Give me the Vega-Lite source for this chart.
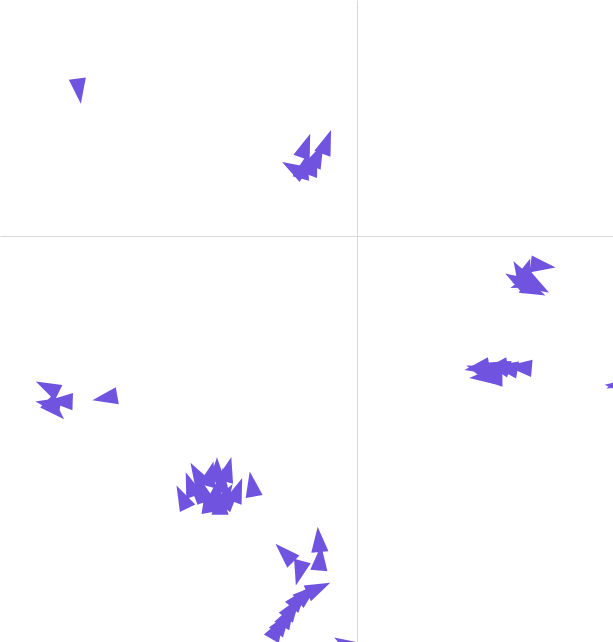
{
  "$schema": "https://vega.github.io/schema/vega-lite/v6.json",
  "width": 613,
  "height": 642,
  "padding": 0,
  "autosize": {"type": "none"},
  "config": {"view": {"stroke": null}},
  "data": {
    "values": [
      {"x": -45.3, "y": 22.6, "dir": 172},
      {"x": -4.9, "y": 14.7, "dir": 20},
      {"x": -8.3, "y": 14.1, "dir": 20},
      {"x": -6.3, "y": 12.7, "dir": 25},
      {"x": -10.4, "y": 10.6, "dir": 300},
      {"x": -8.6, "y": 10.9, "dir": 15},
      {"x": -7.1, "y": 11.4, "dir": 20},
      {"x": 30.4, "y": -4.6, "dir": 98},
      {"x": 26.6, "y": -5.6, "dir": 330},
      {"x": 27.9, "y": -7.1, "dir": 120},
      {"x": 28.9, "y": -8.4, "dir": 115},
      {"x": 27.0, "y": -7.4, "dir": 250},
      {"x": 27.6, "y": -5.3, "dir": 20},
      {"x": 26.0, "y": -6.8, "dir": 300},
      {"x": 29.6, "y": -7.8, "dir": 120},
      {"x": 26.5, "y": -20.4, "dir": 275},
      {"x": 22.9, "y": -20.2, "dir": 285},
      {"x": 20.9, "y": -21.1, "dir": 280},
      {"x": 20.4, "y": -21.9, "dir": 265},
      {"x": 21.7, "y": -22.1, "dir": 270},
      {"x": 19.8, "y": -20.8, "dir": 290},
      {"x": 24.2, "y": -20.5, "dir": 280},
      {"x": 22.6, "y": -20.5, "dir": 260},
      {"x": 19.6, "y": -20.5, "dir": 260},
      {"x": 42.5, "y": -23.3, "dir": 275},
      {"x": 42.6, "y": -22.9, "dir": 245},
      {"x": -50.5, "y": -23.5, "dir": 296},
      {"x": -48.4, "y": -25.7, "dir": 272},
      {"x": -50.4, "y": -26.1, "dir": 280},
      {"x": -49.2, "y": -27.1, "dir": 135},
      {"x": -41.1, "y": -25.2, "dir": 260},
      {"x": -26.1, "y": -37.0, "dir": 330},
      {"x": -23.9, "y": -37.0, "dir": 15},
      {"x": -22.8, "y": -36.4, "dir": 0},
      {"x": -21.0, "y": -36.3, "dir": 15},
      {"x": -25.1, "y": -39.5, "dir": 345},
      {"x": -23.1, "y": -40.0, "dir": 10},
      {"x": -21.3, "y": -40.3, "dir": 30},
      {"x": -24.3, "y": -41.1, "dir": 350},
      {"x": -20.4, "y": -40.6, "dir": 40},
      {"x": -17.1, "y": -38.6, "dir": 350},
      {"x": -28.5, "y": -40.6, "dir": 334},
      {"x": -26.2, "y": -39.5, "dir": 320},
      {"x": -22.3, "y": -41.4, "dir": 0},
      {"x": -19.4, "y": -39.5, "dir": 20},
      {"x": -27.2, "y": -38.6, "dir": 340},
      {"x": -22.0, "y": -38.0, "dir": 5},
      {"x": -6.2, "y": -47.2, "dir": 355},
      {"x": -11.8, "y": -49.3, "dir": 315},
      {"x": -9.4, "y": -52.5, "dir": 195},
      {"x": -6.0, "y": -50.1, "dir": 5},
      {"x": -6.2, "y": -54.8, "dir": 65},
      {"x": -9.3, "y": -56.3, "dir": 40},
      {"x": -10.4, "y": -57.8, "dir": 35},
      {"x": -11.2, "y": -59.0, "dir": 30},
      {"x": -12.0, "y": -60.1, "dir": 35},
      {"x": -12.9, "y": -61.0, "dir": 30},
      {"x": -8.0, "y": -55.6, "dir": 50},
      {"x": -1.9, "y": -63.5, "dir": 300}
    ]
  },
  "mark": {
    "type": "point",
    "shape": "M0,-1L0.68,1L-0.68,1Z",
    "filled": true,
    "opacity": 1,
    "color": "#7054e0",
    "size": 640,
    "clip": true
  },
  "encoding": {
    "x": {
      "field": "x",
      "type": "quantitative",
      "scale": {"domain": [-58.2, 41.8], "nice": false, "zero": false},
      "axis": {"title": null, "domain": false, "ticks": false, "labels": false, "grid": true, "values": [0], "gridColor": "#d9d9d9"}
    },
    "y": {
      "field": "y",
      "type": "quantitative",
      "scale": {"domain": [-63.2, 36.8], "nice": false, "zero": false},
      "axis": {"title": null, "domain": false, "ticks": false, "labels": false, "grid": true, "values": [0], "gridColor": "#d9d9d9"}
    },
    "angle": {"field": "dir", "type": "quantitative", "scale": {"domain": [0, 360], "range": [0, 360]}}
  }
}
